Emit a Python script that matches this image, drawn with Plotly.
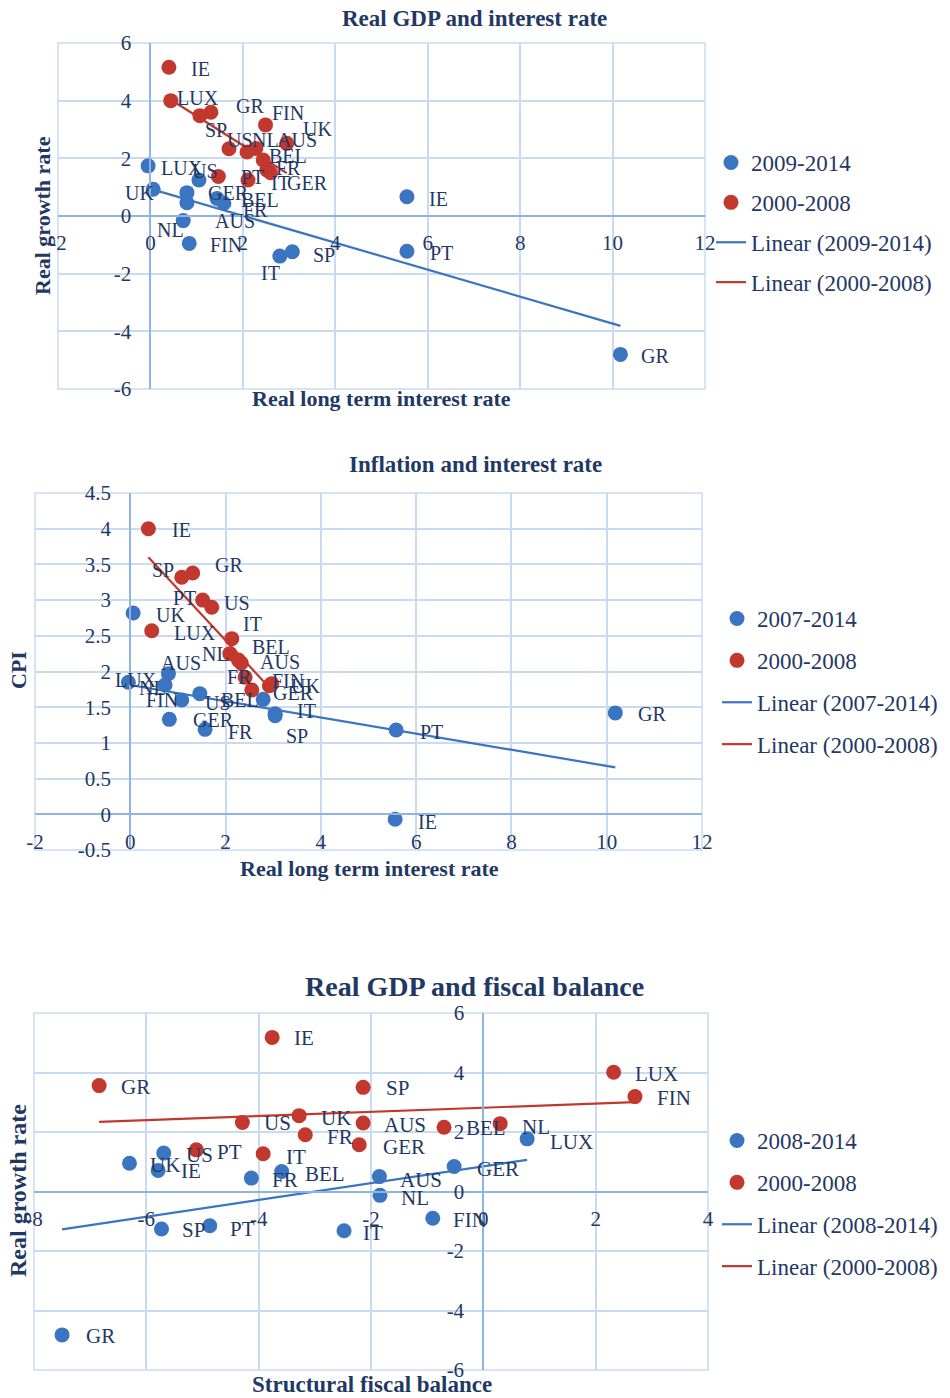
import numpy as np
import plotly.graph_objects as go

# page is 950x1398; the body margin is removed by a small post-script
W, H = 950, 1398
FONT = "Liberation Serif"
TXT = "#1F3864"
BLUE = "#3B74C0"
RED = "#C3382E"
GRID = "#C9DBF2"
AXIS = "#8EB4E3"

# ---------------- Chart 1: Real GDP and interest rate ----------------
c1_new_countries = ["IE", "PT", "GR", "IT", "SP", "FIN", "NL", "AUS", "GER", "BEL", "FR", "US", "UK", "LUX"]
c1_new_rate = [5.55, 5.55, 10.17, 2.80, 3.07, 0.84, 0.71, 0.79, 0.79, 1.44, 1.59, 1.05, 0.06, -0.05]
c1_new_growth = [0.67, -1.22, -4.80, -1.39, -1.24, -0.95, -0.16, 0.46, 0.81, 0.61, 0.44, 1.25, 0.93, 1.74]
c1_old_countries = ["IE", "LUX", "SP", "GR", "FIN", "UK", "US", "NL", "AUS", "BEL", "FR", "PT", "IT", "GER"]
c1_old_rate = [0.40, 0.44, 1.07, 1.31, 2.49, 2.95, 1.70, 2.09, 2.28, 2.44, 2.52, 1.47, 2.11, 2.60]
c1_old_growth = [5.16, 4.00, 3.48, 3.60, 3.16, 2.52, 2.33, 2.22, 2.34, 1.94, 1.60, 1.37, 1.25, 1.50]
c1_series = ["2009-2014", "2000-2008"]
c1_xticks = [-2, 0, 2, 4, 6, 8, 10, 12]
c1_yticks = [-6, -4, -2, 0, 2, 4, 6]

# ---------------- Chart 2: Inflation and interest rate ----------------
c2_new_countries = ["UK", "LUX", "AUS", "NL", "FIN", "US", "GER", "FR", "BEL", "IT", "SP", "PT", "GR", "IE"]
c2_new_rate = [0.06, -0.04, 0.80, 0.73, 1.08, 1.46, 0.82, 1.57, 2.79, 3.04, 3.04, 5.58, 10.18, 5.56]
c2_new_cpi = [2.82, 1.85, 1.97, 1.81, 1.60, 1.69, 1.33, 1.19, 1.61, 1.41, 1.38, 1.18, 1.42, -0.07]
c2_old_countries = ["IE", "SP", "GR", "PT", "US", "LUX", "IT", "NL", "BEL", "AUS", "FR", "GER", "FIN", "UK"]
c2_old_rate = [0.38, 1.08, 1.31, 1.52, 1.71, 0.45, 2.13, 2.09, 2.27, 2.33, 2.41, 2.55, 2.97, 2.92]
c2_old_cpi = [4.00, 3.32, 3.38, 3.00, 2.90, 2.57, 2.46, 2.25, 2.16, 2.12, 1.92, 1.74, 1.83, 1.80]
c2_series = ["2007-2014", "2000-2008"]
c2_xticks = [-2, 0, 2, 4, 6, 8, 10, 12]
c2_yticks = [-0.5, 0, 0.5, 1, 1.5, 2, 2.5, 3, 3.5, 4, 4.5]

# ---------------- Chart 3: Real GDP and fiscal balance ----------------
c3_new_countries = ["UK", "IE", "US", "FR", "BEL", "AUS", "GER", "LUX", "NL", "FIN", "IT", "SP", "PT", "GR"]
c3_new_balance = [-6.30, -5.79, -5.69, -4.13, -3.59, -1.85, -0.52, 0.78, -1.84, -0.90, -2.48, -5.73, -4.87, -7.50]
c3_new_growth = [0.95, 0.71, 1.29, 0.45, 0.67, 0.50, 0.84, 1.77, -0.13, -0.90, -1.32, -1.26, -1.15, -4.82]
c3_old_countries = ["IE", "GR", "SP", "LUX", "FIN", "US", "UK", "FR", "AUS", "GER", "BEL", "NL", "PT", "IT"]
c3_old_balance = [-3.76, -6.84, -2.14, 2.32, 2.70, -4.29, -3.28, -3.17, -2.14, -2.21, -0.70, 0.30, -5.11, -3.92]
c3_old_growth = [5.18, 3.56, 3.50, 4.01, 3.19, 2.32, 2.55, 1.91, 2.30, 1.57, 2.16, 2.28, 1.40, 1.27]
c3_series = ["2008-2014", "2000-2008"]
c3_xticks = [-8, -6, -4, -2, 0, 2, 4]
c3_yticks = [-6, -4, -2, 0, 2, 4, 6]

# ---------------- label placement (pixel offsets from each point) ----------------
c1_new_lbl = [(32, 2), (35, 2), (35, 2), (-9, 17), (32, 3), (37, 2), (-13, 9), (48, 18), (42, 0), (43, 2), (32, 7), (6, -9), (-14, 4), (34, 2)]
c1_old_lbl = [(32, 2), (27, -3), (16, 14), (39, -6), (22, -12), (31, -14), (11, -9), (18, -12), (41, -9), (25, -4), (22, -2), (34, 0), (33, 3), (37, 10)]
c2_new_lbl = [(37, 2), (8, -2), (13, -11), (-13, 3), (-20, 0), (18, 9), (44, 1), (35, 3), (-23, 1), (31, -3), (22, 20), (35, 2), (37, 1), (32, 3)]
c2_old_lbl = [(33, 1), (-19, -7), (36, -8), (-18, -2), (25, -4), (43, 2), (21, -15), (-14, 0), (33, -13), (39, -1), (-6, 0), (42, 3), (16, -3), (36, 0)]
c3_new_lbl = [(36, 2), (33, 1), (36, 2), (34, 2), (43, 2), (42, 3), (44, 2), (44, 3), (35, 3), (37, 2), (29, 2), (32, 1), (33, 3), (38, 1)]
c3_old_lbl = [(32, 1), (36, 1), (34, 1), (43, 2), (39, 1), (35, 1), (37, 2), (35, 2), (42, 2), (45, 2), (42, 1), (36, 3), (33, 2), (33, 3)]

# plot-area boxes in page pixels: (left, right, top, bottom)
boxes = [(58, 705, 43, 389), (35, 702, 493, 850), (34, 708, 1013, 1370)]
ranges = [((-2, 12), (-6, 6)), ((-2, 12), (-0.5, 4.5)), ((-8, 4), (-6, 6))]


def px_x(px):
    return px / W


def px_y(py):
    return 1 - py / H


def tick_text(v):
    return ("%g" % v).replace("\u2212", "-")


def fit(x, y):
    x = np.asarray(x, float)
    y = np.asarray(y, float)
    m, b = np.polyfit(x, y, 1)
    xs = np.array([x.min(), x.max()])
    return xs, m * xs + b


charts = [
    dict(new=(c1_new_countries, c1_new_rate, c1_new_growth, c1_new_lbl),
         old=(c1_old_countries, c1_old_rate, c1_old_growth, c1_old_lbl),
         series=c1_series, xt=c1_xticks, yt=c1_yticks),
    dict(new=(c2_new_countries, c2_new_rate, c2_new_cpi, c2_new_lbl),
         old=(c2_old_countries, c2_old_rate, c2_old_cpi, c2_old_lbl),
         series=c2_series, xt=c2_xticks, yt=c2_yticks),
    dict(new=(c3_new_countries, c3_new_balance, c3_new_growth, c3_new_lbl),
         old=(c3_old_countries, c3_old_balance, c3_old_growth, c3_old_lbl),
         series=c3_series, xt=c3_xticks, yt=c3_yticks),
]

fig = go.Figure()
annotations = []
shapes = []
layout_axes = {}
legend_cfg = [
    dict(x=711, y=141, gap=7),
    dict(x=717, y=597, gap=9),
    dict(x=717, y=1119, gap=9),
]
label_size = [20, 20, 21]

for i, ch in enumerate(charts):
    s = "" if i == 0 else str(i + 1)
    xr, yr = f"x{s}", f"y{s}"
    leg = "legend" if i == 0 else f"legend{i + 1}"
    l, r, t, b = boxes[i]
    (x0, x1), (y0, y1) = ranges[i]
    dx_dom = [px_x(l), px_x(r)]
    dy_dom = [px_y(b), px_y(t)]

    nc, nx, ny, nl = ch["new"]
    oc, ox, oy, ol = ch["old"]
    fig.add_trace(go.Scatter(x=nx, y=ny, mode="markers", name=ch["series"][0],
                             marker=dict(color=BLUE, size=15), xaxis=xr, yaxis=yr,
                             legend=leg, legendgroup=f"a{i}"))
    fig.add_trace(go.Scatter(x=ox, y=oy, mode="markers", name=ch["series"][1],
                             marker=dict(color=RED, size=15), xaxis=xr, yaxis=yr,
                             legend=leg, legendgroup=f"b{i}"))
    fx, fy = fit(nx, ny)
    fig.add_trace(go.Scatter(x=fx, y=fy, mode="lines", name=f"Linear ({ch['series'][0]})",
                             line=dict(color=BLUE, width=2.2), xaxis=xr, yaxis=yr,
                             legend=leg, legendgroup=f"c{i}"))
    fx, fy = fit(ox, oy)
    fig.add_trace(go.Scatter(x=fx, y=fy, mode="lines", name=f"Linear ({ch['series'][1]})",
                             line=dict(color=RED, width=2.2), xaxis=xr, yaxis=yr,
                             legend=leg, legendgroup=f"d{i}"))

    for names, xs, ys, offs in ((nc, nx, ny, nl), (oc, ox, oy, ol)):
        for nm, xv, yv, (ddx, ddy) in zip(names, xs, ys, offs):
            annotations.append(dict(x=xv, y=yv, xref=xr, yref=yr, text=nm, showarrow=False,
                                    xshift=ddx, yshift=-ddy, xanchor="center", yanchor="middle",
                                    font=dict(family=FONT, size=label_size[i], color=TXT)))

    xpos = dy_dom[0] + (0 - y0) / (y1 - y0) * (dy_dom[1] - dy_dom[0])
    ypos = dx_dom[0] + (0 - x0) / (x1 - x0) * (dx_dom[1] - dx_dom[0])
    tickfont = dict(family=FONT, size=21, color=TXT)
    layout_axes[f"xaxis{s}"] = dict(domain=dx_dom, range=[x0, x1], anchor="free", position=xpos,
                                    tickmode="array", tickvals=ch["xt"], ticktext=[tick_text(v) for v in ch["xt"]],
                                    showgrid=True, gridcolor=GRID, gridwidth=1.5, zeroline=False,
                                    showline=True, linecolor=AXIS, linewidth=2, ticks="",
                                    ticklabelstandoff=8, tickfont=tickfont, fixedrange=True,
                                    automargin=False)
    layout_axes[f"yaxis{s}"] = dict(domain=dy_dom, range=[y0, y1], anchor="free", position=ypos,
                                    tickmode="array", tickvals=ch["yt"], ticktext=[tick_text(v) for v in ch["yt"]],
                                    showgrid=True, gridcolor=GRID, gridwidth=1.5, zeroline=False,
                                    showline=True, linecolor=AXIS, linewidth=2, ticks="",
                                    ticklabelstandoff=14, tickfont=tickfont, fixedrange=True,
                                    automargin=False)
    shapes.append(dict(type="rect", xref=f"{xr} domain", yref=f"{yr} domain", x0=0, x1=1, y0=0, y1=1,
                       line=dict(color=GRID, width=1.5), layer="below"))
    lc = legend_cfg[i]
    layout_axes[leg] = dict(x=px_x(lc["x"]), y=px_y(lc["y"]), xanchor="left", yanchor="top",
                            font=dict(family=FONT, size=23, color=TXT), bgcolor="rgba(0,0,0,0)",
                            tracegroupgap=lc["gap"], traceorder="grouped")


def ann(text, px, py, size, angle=0, bold=True):
    t = f"<b>{text}</b>" if bold else text
    return dict(x=px_x(px), y=px_y(py), xref="paper", yref="paper", text=t, showarrow=False,
                xanchor="center", yanchor="middle", textangle=angle,
                font=dict(family=FONT, size=size, color=TXT))


annotations += [
    ann("Real GDP and interest rate", 474, 18, 23),
    ann("Real long term interest rate", 381, 398, 22),
    ann("Real growth rate", 42, 216, 22, -90),
    ann("Inflation and interest rate", 475, 465, 23),
    ann("Real long term interest rate", 369, 868, 22),
    ann("CPI", 18, 670, 22, -90),
    ann("Real GDP and fiscal balance", 474, 986, 28),
    ann("Structural fiscal balance", 372, 1384, 23),
    ann("Real growth rate", 18, 1191, 24, -90),
]

fig.update_layout(width=W, height=H, margin=dict(l=0, r=0, t=0, b=0, autoexpand=False), autosize=False,
                  paper_bgcolor="white", plot_bgcolor="white", showlegend=True,
                  annotations=annotations, shapes=shapes, **layout_axes)

fig.write_html("out.html", config={"displayModeBar": False},
               post_script="document.body.style.margin='0';document.body.style.overflow='hidden';")
